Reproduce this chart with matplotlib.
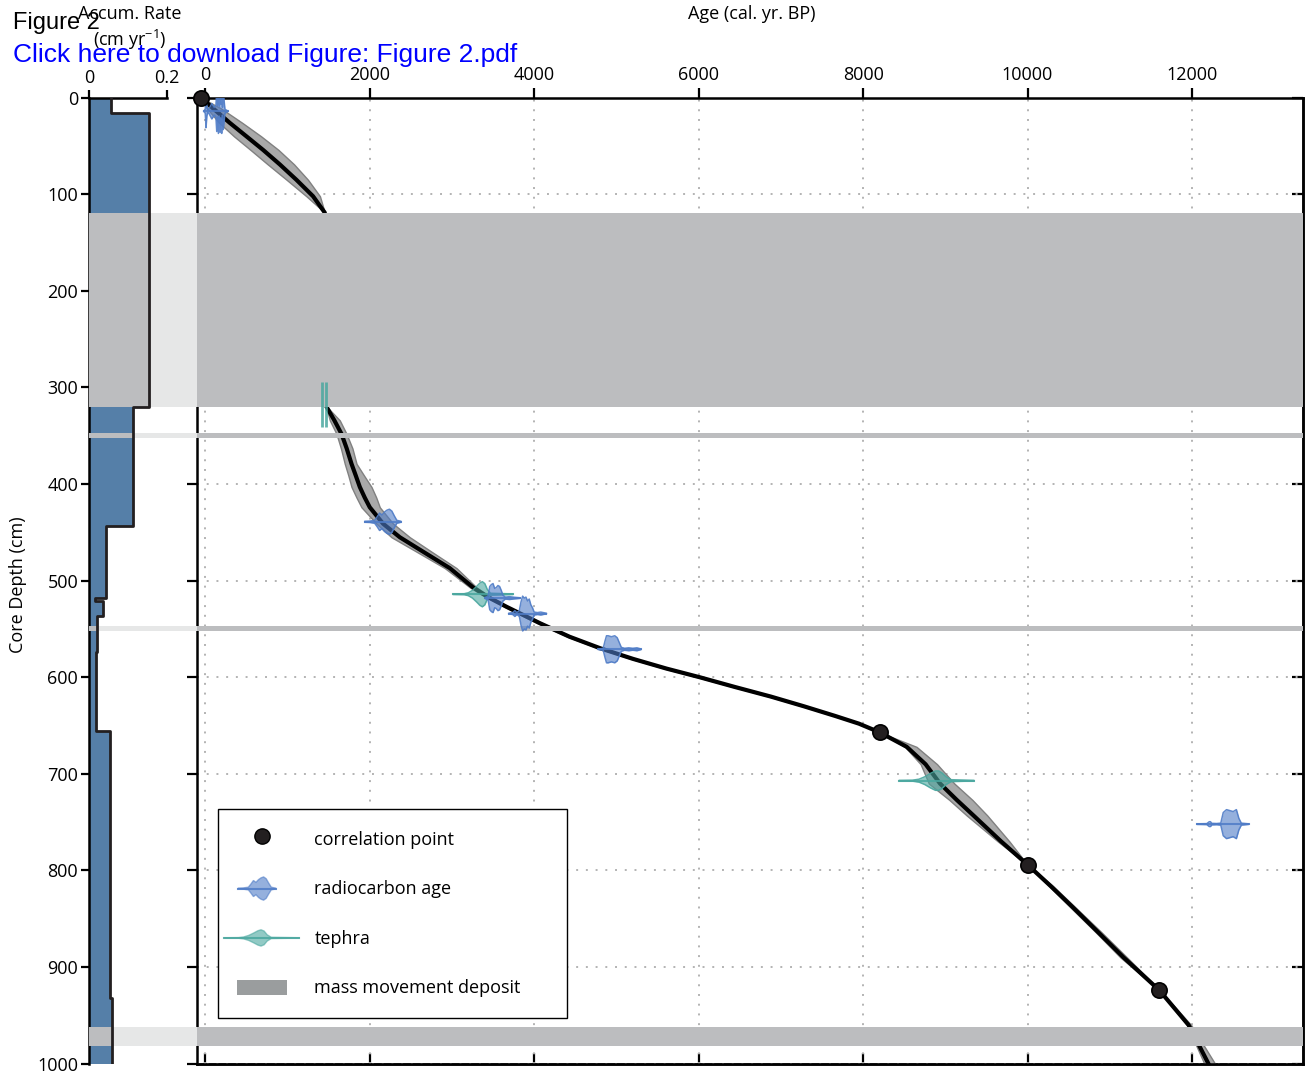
import numpy as np
import matplotlib.pyplot as plt
from matplotlib.patches import Polygon, Rectangle, Patch
from matplotlib.lines import Line2D
from matplotlib.legend_handler import HandlerBase

plt.rcParams['font.family'] = ['Open Sans', 'DejaVu Sans']
plt.rcParams['mathtext.default'] = 'regular'

# accumulation rate (step profile, cm/yr), top depth of each step
acc_top = [0, 16, 320, 443, 518, 521, 537, 574, 656, 932]
acc_rate = [0.057, 0.154, 0.112, 0.043, 0.015, 0.035, 0.021, 0.0165, 0.0535, 0.058]

# mass movement deposits (cm)
dep_top = [119, 347, 547, 962]
dep_bot = [320, 352, 552, 982]

# age-depth model: median and envelope
model_depth = [0, 11, 26, 40, 54, 69, 85, 102, 119,
               320, 334, 348, 363, 379, 391, 403, 414, 424, 441, 455, 470, 487, 507, 517, 527,
               544, 558, 570, 581, 591, 600, 610, 620, 630, 640, 648,
               657, 672, 690, 710, 727, 743, 770, 794, 816, 838, 864, 890, 924, 960, 1000]
model_age = [-50, 95, 298, 501, 703, 906, 1109, 1311, 1454,
             1475, 1570, 1657, 1720, 1779, 1830, 1880, 1940, 2001, 2163, 2366, 2650, 2974,
             3258, 3440, 3664, 4070, 4430, 4805, 5205, 5610, 6016, 6440, 6880, 7280, 7660, 7950,
             8202, 8531, 8760, 8936, 9140, 9342, 9680, 10000, 10280, 10550, 10860, 11168,
             11603, 11959, 12200]
model_lo = [-50, 20, 170, 350, 550, 760, 990, 1230, 1454,
            1470, 1515, 1596, 1650, 1697, 1740, 1779, 1840, 1900, 2083, 2265, 2570, 2914,
            3220, 3410, 3640, 4040, 4405, 4780, 5180, 5585, 5990, 6420, 6860, 7260, 7645, 7940,
            8202, 8510, 8700, 8800, 9050, 9260, 9640, 10000, 10260, 10520, 10830, 11130,
            11600, 11940, 12150]
model_hi = [-50, 190, 450, 680, 890, 1080, 1250, 1395, 1454,
            1480, 1636, 1718, 1790, 1840, 1930, 2022, 2080, 2123, 2285, 2488, 2752, 3056,
            3300, 3475, 3690, 4100, 4460, 4830, 5235, 5640, 6045, 6470, 6905, 7300, 7680, 7965,
            8202, 8650, 8900, 9110, 9330, 9510, 9780, 10000, 10310, 10580, 10900, 11210,
            11610, 11990, 12280]

# correlation points
corr_age = [-50, 8202, 10000, 11603]
corr_depth = [0, 657, 794, 924]

# radiocarbon age distributions (age, half height in cm)
rc1_depth = 14
rc1_age = [-20, 0, 10, 20, 30, 50, 80, 110, 130, 140, 150, 160, 170, 180, 190, 200, 210, 220, 240, 280]
rc1_hh = [0, 2, 17, 5, 1, 3, 8, 4, 6, 21, 6, 23, 5, 22, 7, 23, 4, 19, 2, 0]

rc2_depth = 439
rc2_age = [1940, 2000, 2060, 2090, 2120, 2150, 2180, 2210, 2240, 2270, 2300, 2330, 2380]
rc2_hh = [0.5, 0.7, 1.5, 5, 9, 7, 10, 12, 13, 11, 6, 1.5, 0.5]

rc3_depth = 518
rc3_age = [3400, 3440, 3460, 3480, 3500, 3520, 3540, 3560, 3580, 3600, 3620, 3650, 3700, 3760, 3830]
rc3_hh = [0.3, 2, 12, 14, 15, 10, 11, 13, 12, 8, 3, 1, 1.5, 0.8, 0.3]

rc4_depth = 534
rc4_age = [3690, 3740, 3765, 3790, 3820, 3840, 3860, 3880, 3900, 3920, 3940, 3960, 3980, 4000,
           4040, 4080, 4150]
rc4_hh = [0.3, 1, 3, 1, 3, 12, 18, 16, 17, 13, 15, 9, 6, 1.5, 1, 1.5, 0.3]

rc5_depth = 571
rc5_age = [4780, 4840, 4860, 4880, 4900, 4940, 4980, 5010, 5040, 5060, 5100, 5150, 5200, 5250, 5300]
rc5_hh = [0.3, 1, 8, 14, 14, 13, 14, 12, 6, 2, 1, 1.5, 1, 1.5, 0.3]

rc6_depth = 752
rc6_age = [12060, 12180, 12210, 12225, 12240, 12300, 12350, 12380, 12420, 12460, 12500, 12540,
           12570, 12600, 12690]
rc6_hh = [0.3, 0.5, 2.5, 2.5, 0.8, 0.6, 1, 12, 15, 14, 13, 15, 6, 1, 0.3]

# tephra age distributions
te1_depth = 514
te1_age = [3014, 3150, 3200, 3250, 3300, 3340, 3370, 3400, 3430, 3470, 3743]
te1_hh = [0.3, 0.5, 1.5, 4, 8, 11.5, 13, 11, 5, 1, 0.3]

te2_depth = 707
te2_age = [8438, 8600, 8680, 8750, 8820, 8880, 8920, 8960, 9010, 9070, 9349]
te2_hh = [0.3, 0.5, 1.5, 4, 7.5, 10, 10, 8, 4, 1, 0.3]

te_spike_age = [1426, 1474]
te_spike_top = 294
te_spike_bot = 341

blue = '#557fa8'
mid_grey = '#bcbdbf'
light_grey = '#e6e7e7'
rc_col = '#4f7cc7'
te_col = '#4aa79f'

fig = plt.figure(figsize=(13.05, 10.78), dpi=100)
ax = fig.add_axes([0.15096, 0.01327, 0.84751, 0.89610])
ax_acc = fig.add_axes([0.06843, 0.01327, 0.08253, 0.89610])

# ---- accumulation rate panel
bounds = np.append(acc_top, 1000)
yy = np.repeat(bounds, 2)[1:-1]
xx = np.repeat(acc_rate, 2)
for t, b in zip(dep_top, dep_bot):
    ax_acc.axhspan(t, b, color=light_grey, lw=0, zorder=1)
ax_acc.fill_betweenx(yy, 0, xx, color=blue, lw=0, zorder=2)
for t, b in zip(dep_top, dep_bot):
    r = acc_rate[np.searchsorted(acc_top, t, side='right') - 1]
    ax_acc.fill_betweenx([t, b], 0, r, color=mid_grey, lw=0, zorder=3)
ax_acc.plot(xx, yy, color='#231f20', lw=2, zorder=4)

ax_acc.set_ylim(1000, 0)
ax_acc.set_xlim(0, 0.2772)
ax_acc.spines['right'].set_visible(False)
ax_acc.spines['bottom'].set_visible(False)
ax_acc.spines['top'].set_bounds(0, 0.2)
for s in ['top', 'left']:
    ax_acc.spines[s].set_linewidth(1.8)
ax_acc.xaxis.tick_top()
ax_acc.set_xticks([0, 0.2])
ax_acc.set_xticklabels(['0', '0.2'])
ax_acc.set_yticks(range(0, 1001, 100))
ax_acc.tick_params(direction='out', length=6, width=1.6, labelsize=13, pad=2)
ax_acc.patch.set_alpha(0)

# ---- main age-depth panel
ax.fill_betweenx(model_depth, model_lo, model_hi, color='#a9a9a9', ec='#808080', lw=1, zorder=2)
ax.plot(model_age, model_depth, color='black', lw=3, zorder=3)
for t, b in zip(dep_top, dep_bot):
    ax.axhspan(t, b, color=mid_grey, lw=0, zorder=4)


def violin(age, hh, depth, col, zo):
    age = np.asarray(age, float)
    hh = np.asarray(hh, float)
    ax.fill_between(age, depth - hh, depth + hh, color=col, alpha=0.6, lw=0, zorder=zo)
    ax.fill_between(age, depth - hh, depth + hh, facecolor='none', edgecolor=col,
                    alpha=0.9, lw=1.1, zorder=zo)
    ax.plot([age[0], age[-1]], [depth, depth], color=col, lw=1.5, alpha=0.85, zorder=zo)


violin(te1_age, te1_hh, te1_depth, te_col, 5)
violin(te2_age, te2_hh, te2_depth, te_col, 5)
ax.vlines(te_spike_age, te_spike_top, te_spike_bot, color=te_col, lw=2, alpha=0.85, zorder=5)
for a, h, d in [(rc1_age, rc1_hh, rc1_depth), (rc2_age, rc2_hh, rc2_depth),
                (rc3_age, rc3_hh, rc3_depth), (rc4_age, rc4_hh, rc4_depth),
                (rc5_age, rc5_hh, rc5_depth), (rc6_age, rc6_hh, rc6_depth)]:
    violin(a, h, d, rc_col, 6)

ax.plot(corr_age, corr_depth, 'o', ms=11, mfc='#231f20', mec='black', mew=1.2,
        zorder=7, clip_on=False)

ax.set_xlim(-100, 13350)
ax.set_ylim(1000, 0)
ax.xaxis.tick_top()
ax.set_xticks(range(0, 12001, 2000))
ax.set_yticks(range(0, 1001, 100))
ax.tick_params(direction='out', length=7, width=1.6, labelsize=13, pad=3)
ax.tick_params(axis='y', labelleft=False)
ax.grid(True, ls=(0, (1, 4)), color='#b3b3b3', lw=1.4, zorder=0)
ax.set_axisbelow(True)
for s in ax.spines.values():
    s.set_linewidth(1.8)

secx = ax.secondary_xaxis('bottom')
secx.set_xticks(range(0, 12001, 2000))
secx.tick_params(direction='in', length=8, width=1.6, labelbottom=False)
secx.spines['bottom'].set_linewidth(1.8)
secy = ax.secondary_yaxis('right')
secy.set_yticks(range(0, 1001, 100))
secy.tick_params(direction='in', length=8, width=1.6, labelright=False)
secy.spines['right'].set_linewidth(1.8)


class ViolinHandler(HandlerBase):
    def __init__(self, age, hh, col, xscale=1.0, yscale=1.0, xshift=0.0):
        super().__init__()
        self.age = np.asarray(age, float)
        self.hh = np.asarray(hh, float)
        self.col = col
        self.xscale, self.yscale, self.xshift = xscale, yscale, xshift

    def create_artists(self, legend, orig_handle, xdescent, ydescent, width, height,
                       fontsize, trans):
        a = self.age
        cx = width / 2 - xdescent + self.xshift * width
        x = cx + (a - (a.min() + a.max()) / 2) / (a.max() - a.min()) * width * self.xscale
        yc = height / 2 - ydescent
        h = self.hh / self.hh.max() * height / 2 * self.yscale
        poly = Polygon(np.column_stack([np.r_[x, x[::-1]], np.r_[yc + h, (yc - h)[::-1]]]),
                       closed=True, fc=self.col, ec=self.col, alpha=0.6, lw=1, transform=trans)
        line = Line2D([x[0], x[-1]], [yc, yc], color=self.col, lw=1.5, alpha=0.85,
                      transform=trans)
        return [poly, line]


class BoxHandler(HandlerBase):
    def create_artists(self, legend, orig_handle, xdescent, ydescent, width, height,
                       fontsize, trans):
        yc = height / 2 - ydescent
        return [Rectangle((-xdescent, yc - 0.33 * height), width, 0.66 * height,
                          fc='#9a9d9e', lw=0, transform=trans)]


h_corr = Line2D([], [], marker='o', ls='none', ms=11, mfc='#231f20', mec='black')
h_rc = Patch()
h_te = Patch()
h_mm = Patch()
leg = ax.legend([h_corr, h_rc, h_te, h_mm],
                ['correlation point', 'radiocarbon age', 'tephra', 'mass movement deposit'],
                handler_map={h_rc: ViolinHandler(rc2_age, rc2_hh, rc_col, 0.74, 1.0, -0.1),
                             h_te: ViolinHandler(te1_age, te1_hh, te_col, 1.48, 0.7),
                             h_mm: BoxHandler()},
                loc='upper left', bbox_to_anchor=(0.019, 0.0504, 0.3155, 0.2133),
                mode='expand', fontsize=13, fancybox=False, framealpha=1,
                edgecolor='black', handlelength=2.8, handleheight=1.6,
                handletextpad=1.5, labelspacing=1.45, borderpad=1.03, borderaxespad=0)
leg.get_frame().set_linewidth(1.0)
leg.set_zorder(10)

fig.text(752 / 1305, 1 - 14 / 1078, 'Age (cal. yr. BP)', ha='center', va='center', fontsize=13)
fig.text(130 / 1305, 1 - 14 / 1078, 'Accum. Rate', ha='center', va='center', fontsize=13)
fig.text(130 / 1305, 1 - 40 / 1078, '(cm yr$^{-1}$)', ha='center', va='center', fontsize=13)
fig.text(18 / 1305, 1 - 585 / 1078, 'Core Depth (cm)', ha='center', va='center',
         rotation=90, fontsize=13)
fig.text(13 / 1305, 1 - 23 / 1078, 'Figure 2', ha='left', va='center', fontsize=17,
         family=['Liberation Sans', 'DejaVu Sans'])
fig.text(13 / 1305, 1 - 55 / 1078, 'Click here to download Figure: Figure 2.pdf', ha='left',
         va='center', fontsize=19, color='#0000ff', family=['Liberation Sans', 'DejaVu Sans'])

fig.savefig('out.png', dpi=100)
